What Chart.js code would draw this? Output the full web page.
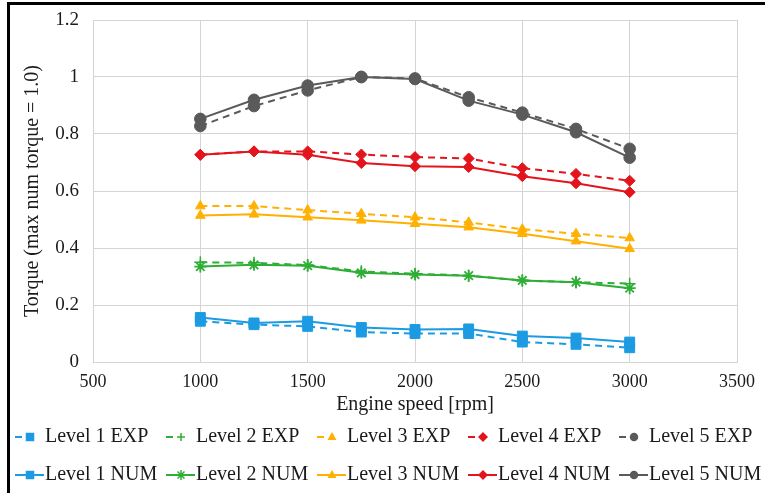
<!DOCTYPE html>
<html>
<head>
<meta charset="utf-8">
<script src="https://cdn.jsdelivr.net/npm/chart.js@4/dist/chart.umd.min.js"></script>
<style>
  html, body { margin: 0; padding: 0; background: #ffffff; }
  #wrap { width: 765px; height: 493px; position: relative; }
</style>
</head>
<body>
<div id="wrap"><canvas id="c" width="765" height="493"></canvas></div>
<script>
// ---- data ----
const rpm = [1000, 1250, 1500, 1750, 2000, 2250, 2500, 2750, 3000];
const level1Exp = [0.143, 0.131, 0.125, 0.105, 0.100, 0.100, 0.070, 0.062, 0.050];
const level1Num = [0.156, 0.137, 0.143, 0.121, 0.114, 0.116, 0.091, 0.084, 0.070];
const level2Exp = [0.350, 0.348, 0.340, 0.318, 0.310, 0.303, 0.286, 0.280, 0.275];
const level2Num = [0.335, 0.341, 0.338, 0.313, 0.307, 0.303, 0.286, 0.280, 0.259];
const level3Exp = [0.547, 0.547, 0.533, 0.520, 0.508, 0.490, 0.466, 0.450, 0.435];
const level3Num = [0.514, 0.518, 0.508, 0.497, 0.485, 0.473, 0.450, 0.424, 0.397];
const level4Exp = [0.727, 0.739, 0.739, 0.728, 0.719, 0.714, 0.680, 0.660, 0.636];
const level4Num = [0.727, 0.739, 0.727, 0.698, 0.687, 0.684, 0.652, 0.627, 0.596];
const level5Exp = [0.828, 0.898, 0.953, 1.000, 0.995, 0.929, 0.875, 0.818, 0.748];
const level5Num = [0.853, 0.920, 0.970, 1.000, 0.993, 0.917, 0.868, 0.806, 0.717];

const seriesLabels = ['Level 1 EXP', 'Level 2 EXP', 'Level 3 EXP', 'Level 4 EXP', 'Level 5 EXP',
                      'Level 1 NUM', 'Level 2 NUM', 'Level 3 NUM', 'Level 4 NUM', 'Level 5 NUM'];
const xTickLabels = ['500', '1000', '1500', '2000', '2500', '3000', '3500'];
const yTickLabels = ['0', '0.2', '0.4', '0.6', '0.8', '1', '1.2'];
const xTitle = 'Engine speed [rpm]';
const yTitle = 'Torque (max num torque = 1.0)';

// ---- styles ----
const colors = ['#1C9BE2', '#2EAE35', '#FFB000', '#E3141C', '#5A5A5A'];
const markers = ['rect', 'star', 'triangle', 'rectRot', 'circle'];
const markerRadius = [7, 6, 5.5, 5.5, 5.8];
const expMarkers = ['rect', 'cross', 'triangle', 'rectRot', 'circle'];

const expValues = [level1Exp, level2Exp, level3Exp, level4Exp, level5Exp];
const numValues = [level1Num, level2Num, level3Num, level4Num, level5Num];

function toPoints(vals) { return vals.map((v, i) => ({ x: rpm[i], y: v })); }

const datasets = [];
expValues.forEach((vals, i) => {
  datasets.push({
    label: seriesLabels[i],
    data: toPoints(vals),
    borderColor: colors[i],
    backgroundColor: colors[i],
    borderWidth: 2,
    borderDash: [7, 5],
    pointStyle: expMarkers[i],
    pointRadius: markerRadius[i],
    pointBorderWidth: i === 1 ? 1.5 : 1,
    pointBorderColor: colors[i],
    pointBackgroundColor: colors[i],
    tension: 0,
    order: 1,
    isExp: true
  });
});
numValues.forEach((vals, i) => {
  datasets.push({
    label: seriesLabels[i + 5],
    data: toPoints(vals),
    borderColor: colors[i],
    backgroundColor: colors[i],
    borderWidth: 2,
    pointStyle: markers[i],
    pointRadius: markerRadius[i],
    pointBorderWidth: i === 1 ? 1.8 : 1,
    pointBorderColor: colors[i],
    pointBackgroundColor: colors[i],
    tension: 0,
    order: 0,
    isExp: false
  });
});

const FONT = "'Liberation Serif', 'Times New Roman', serif";

function drawMarker(ctx, style, x, y, r, color) {
  ctx.save();
  ctx.fillStyle = color;
  ctx.strokeStyle = color;
  ctx.lineWidth = 1.5;
  ctx.setLineDash([]);
  ctx.beginPath();
  if (style === 'rect') {
    ctx.rect(x - r * 0.85, y - r * 0.85, r * 1.7, r * 1.7);
    ctx.fill();
  } else if (style === 'rectRot') {
    ctx.moveTo(x, y - r); ctx.lineTo(x + r, y); ctx.lineTo(x, y + r); ctx.lineTo(x - r, y); ctx.closePath();
    ctx.fill();
  } else if (style === 'triangle') {
    ctx.moveTo(x, y - r); ctx.lineTo(x + r * 0.9, y + r * 0.6); ctx.lineTo(x - r * 0.9, y + r * 0.6); ctx.closePath();
    ctx.fill();
  } else if (style === 'circle') {
    ctx.arc(x, y, r * 0.85, 0, Math.PI * 2);
    ctx.fill();
  } else if (style === 'star' || style === 'cross') {
    ctx.moveTo(x - r, y); ctx.lineTo(x + r, y);
    ctx.moveTo(x, y - r); ctx.lineTo(x, y + r);
    if (style === 'star') {
      const d = r * 0.7;
      ctx.moveTo(x - d, y - d); ctx.lineTo(x + d, y + d);
      ctx.moveTo(x - d, y + d); ctx.lineTo(x + d, y - d);
    }
    ctx.stroke();
  }
  ctx.restore();
}

const framePlugin = {
  id: 'frame',
  beforeDraw(chart) {
    const ctx = chart.ctx;
    ctx.save();
    ctx.fillStyle = '#ffffff';
    ctx.fillRect(0, 0, chart.width, chart.height);
    ctx.fillStyle = '#000000';
    ctx.fillRect(7, 2, chart.width - 7, 3);
    ctx.fillRect(7, 2, 3, chart.height - 2);
    ctx.restore();
  }
};

const legendPlugin = {
  id: 'gridLegend',
  afterDraw(chart) {
    const ctx = chart.ctx;
    const cols = 5;
    const startX = 15, colW = 151, rowsY = [437, 475];
    ctx.save();
    chart.data.datasets.forEach((ds, i) => {
      const col = i % cols, row = Math.floor(i / cols);
      const x0 = startX + col * colW;
      const y = rowsY[row];
      ctx.strokeStyle = ds.borderColor;
      ctx.lineWidth = 2;
      ctx.setLineDash([]);
      ctx.beginPath();
      ctx.moveTo(x0, y);
      ctx.lineTo(ds.isExp ? x0 + 7 : x0 + 29, y);
      ctx.stroke();
      drawMarker(ctx, ds.pointStyle, x0 + 15, y, ds.pointStyle === 'cross' ? 4 : 5, ds.borderColor);
      ctx.fillStyle = '#1a1a1a';
      ctx.font = '20px ' + FONT;
      ctx.textBaseline = 'middle';
      ctx.textAlign = 'left';
      ctx.fillText(ds.label, x0 + 30, y);
    });
    ctx.restore();
  }
};

const xTickValues = xTickLabels.map(Number);
const yTickValues = yTickLabels.map(Number);

new Chart(document.getElementById('c'), {
  type: 'line',
  data: { datasets },
  plugins: [framePlugin, legendPlugin],
  options: {
    responsive: false,
    animation: false,
    events: [],
    layout: { padding: { left: 10, right: 28, top: 20, bottom: 74 } },
    plugins: { legend: { display: false }, tooltip: { enabled: false } },
    scales: {
      x: {
        type: 'linear',
        min: xTickValues[0],
        max: xTickValues[xTickValues.length - 1],
        afterBuildTicks(scale) { scale.ticks = xTickValues.map(v => ({ value: v })); },
        afterFit(scale) { scale.height = 57; scale.paddingLeft = 0; scale.paddingRight = 0; },
        ticks: {
          callback: (v) => xTickLabels[xTickValues.indexOf(v)],
          color: '#1a1a1a',
          font: { family: FONT, size: 18 },
          padding: 9,
          maxRotation: 0
        },
        grid: { color: '#D4D4D4', lineWidth: 1, drawTicks: false },
        border: { color: '#D4D4D4' },
        title: {
          display: true, text: xTitle, color: '#1a1a1a',
          font: { family: FONT, size: 20 }, padding: { top: 0, bottom: 2 }
        }
      },
      y: {
        type: 'linear',
        min: yTickValues[0],
        max: yTickValues[yTickValues.length - 1],
        afterBuildTicks(scale) { scale.ticks = yTickValues.map(v => ({ value: v })); },
        afterFit(scale) { scale.width = 83; scale.paddingTop = 0; scale.paddingBottom = 0; },
        ticks: {
          callback: (v) => yTickLabels[yTickValues.indexOf(v)],
          color: '#1a1a1a',
          font: { family: FONT, size: 19 },
          padding: 14
        },
        grid: { color: '#D4D4D4', lineWidth: 1, drawTicks: false },
        border: { color: '#D4D4D4' },
        title: {
          display: true, text: yTitle, color: '#1a1a1a',
          font: { family: FONT, size: 20 }, padding: { top: 11, bottom: 0 }
        }
      }
    }
  }
});
</script>
</body>
</html>
